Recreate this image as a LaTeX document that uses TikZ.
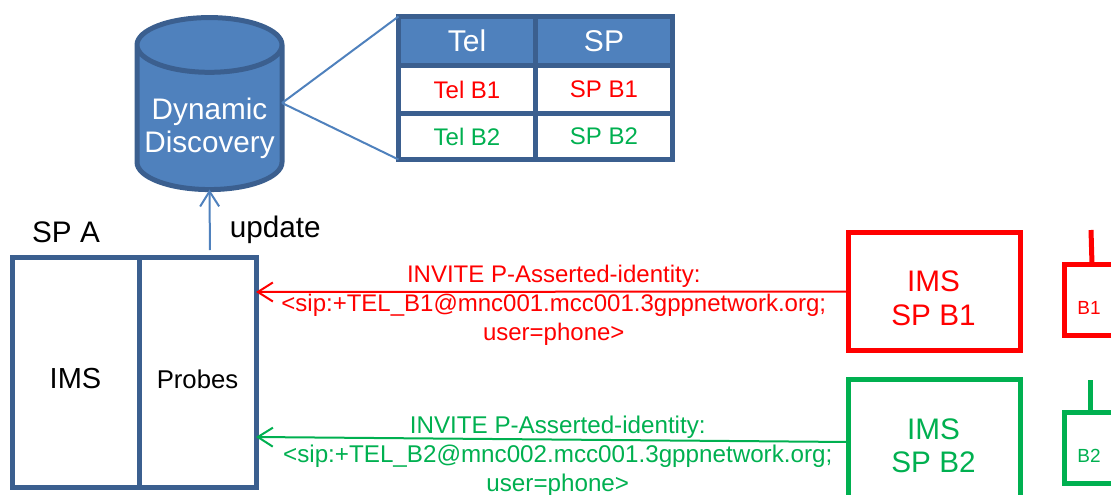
\documentclass[tikz,border=0pt]{standalone}
\usepackage{fontspec}
\setmainfont{Liberation Sans}
\usetikzlibrary{positioning, arrows.meta, shapes.geometric, calc}
\definecolor{spblue}{HTML}{4F81BD}
\definecolor{spborder}{HTML}{3B5F8F}
\definecolor{spred}{HTML}{FF0000}
\definecolor{spgreen}{HTML}{00B050}

\begin{document}
\begin{tikzpicture}[
        x=1pt, y=-1pt,
        every node/.style={outer sep=0pt, inner sep=0pt, align=center},
        cell/.style={draw=spborder, line width=5pt, fill=white, minimum width=137pt},
        headcell/.style={cell, fill=spblue, text=white, minimum height=49pt, font=\fontsize{30}{33}\selectfont},
        bodycell/.style={cell, font=\fontsize{24}{28}\selectfont},
        frame/.style={draw=spborder, line width=5pt, fill=white, minimum height=230pt},
        imsbox/.style={draw=#1, line width=5pt, fill=white, minimum width=172pt},
        uebox/.style={draw=#1, line width=5pt, fill=white, minimum width=90pt, minimum height=71pt},
        arrow/.style={draw=#1, line width=2pt, -{Straight Barb[length=15pt, width=19pt]}},
        msg/.style={text=#1, font=\fontsize{24}{29}\selectfont},
        big/.style={font=\fontsize{29.7}{33.5}\selectfont}
    ]
    \clip (0,0) rectangle (1111,495);

    % Dynamic Discovery
    \node (db) [cylinder, shape border rotate=90, aspect=0.42, draw=spborder, line width=5pt,
        cylinder uses custom fill, cylinder body fill=spblue, cylinder end fill=spblue,
        minimum width=145pt, minimum height=172pt, text=white, big] at (209.5,118.5) {\rule{0pt}{41pt}Dynamic\\Discovery};

    \node (telhead) [headcell] at (467,41) {Tel};
    \node (sphead) [headcell, right=0pt of telhead] {SP};
    \node (telb1) [bodycell, minimum height=48pt, text=spred, below=0pt of telhead] {Tel B1};
    \node (spb1cell) [bodycell, minimum height=48pt, text=spred, right=0pt of telb1] {SP B1};
    \node (telb2) [bodycell, minimum height=46pt, text=spgreen, below=0pt of telb1] {Tel B2};
    \node (spb2cell) [bodycell, minimum height=46pt, text=spgreen, right=0pt of telb2] {SP B2};

    \coordinate (dbside) at ([yshift=15.5pt]db.east);
    \draw[spblue, line width=2pt] (dbside) -- (telhead.north west);
    \draw[spblue, line width=2pt] (dbside) -- (telb2.south west);

    % SP A
    \node (ims) [frame, minimum width=127pt] at (75.5,372) {};
    \node (probes) [frame, minimum width=117pt, right=0pt of ims] {};
    \node (imstext) [font=\fontsize{29}{33}\selectfont] at ([yshift=-7pt]ims) {IMS};
    \node (probestext) [font=\fontsize{25.7}{30}\selectfont] at ([yshift=-7pt]probes) {Probes};
    \node (spa) [big] at (66,232) {SP A};

    \draw[arrow=spblue, shorten <=7pt] ([xshift=12.5pt]probes.north) -- node[right=20pt, pos=0.4, big, text=black] (update) {update} (db.south);

    % SP B1 / SP B2
    \node (spb1) [imsbox=spred, minimum height=118pt] at (934.5,291.5) {};
    \node (spb1text) [big, text=spred] at ([xshift=-1pt, yshift=-7pt]spb1) {IMS\\SP B1};
    \node (spb2) [imsbox=spgreen, minimum height=125pt] at (934.5,442) {};
    \node (spb2text) [big, text=spgreen] at ([xshift=-1pt, yshift=-4pt]spb2) {IMS\\SP B2};

    \node (ueb1) [uebox=spred] at (1109,300) {};
    \node (ueb1text) [text=spred, font=\fontsize{19}{23}\selectfont] at (1089,308) {B1};
    \node (ueb2) [uebox=spgreen] at (1109,448) {};
    \node (ueb2text) [text=spgreen, font=\fontsize{19}{23}\selectfont] at (1089,456) {B2};

    \coordinate (antb1) at (1091,230);
    \coordinate (antb2) at (1090,380);
    \draw[spred, line width=5pt] (antb1) -- ([xshift=1pt]antb1 |- ueb1.north);
    \draw[spgreen, line width=5pt] (antb2) -- (antb2 |- ueb2.north);

    % Verbindungen
    \draw[arrow=spred] (spb1.west) -- node[midway, xshift=1.5pt, yshift=-14pt, msg=spred] (inviteb1) {INVITE P-Asserted-identity:\\<sip:+TEL\_B1@mnc001.mcc001.3gppnetwork.org;\\user=phone>} ([yshift=80pt]probes.east);
    \draw[arrow=spgreen] (spb2.west) -- node[midway, xshift=5.5pt, yshift=-17pt, msg=spgreen, font=\fontsize{24.2}{29}\selectfont] (inviteb2) {INVITE P-Asserted-identity:\\<sip:+TEL\_B2@mnc002.mcc001.3gppnetwork.org;\\user=phone>} ([yshift=-65pt]probes.east);

\end{tikzpicture}
\end{document}
